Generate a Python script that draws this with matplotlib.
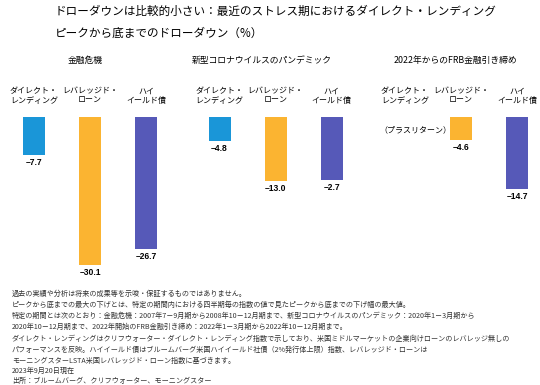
import matplotlib
matplotlib.use("Agg")
import matplotlib.pyplot as plt
import numpy as np

plt.rcParams['font.family'] = ['Noto Sans CJK JP', 'DejaVu Sans']

# データ
periods = ['金融危機', '新型コロナウイルスのパンデミック', '2022年からのFRB金融引き締め']
categories = ['ダイレクト・\nレンディング', 'レバレッジド・\nローン', 'ハイ\nイールド債']
# 棒の長さ
direct_lending = [-7.7, -4.8, None]
leveraged_loans = [-30.1, -13.0, -4.6]
high_yield = [-26.7, -12.7, -14.7]
# 表示ラベル
dl_labels = ['–7.7', '–4.8', None]
ll_labels = ['–30.1', '–13.0', '–4.6']
hy_labels = ['–26.7', '–2.7', '–14.7']
colors = ['#1a96d8', '#fbb431', '#5659b8']

title1 = 'ドローダウンは比較的小さい：最近のストレス期におけるダイレクト・レンディング'
title2 = 'ピークから底までのドローダウン（%）'
notes = [
    '過去の実績や分析は将来の成果等を示唆・保証するものではありません。',
    'ピークから底までの最大の下げとは、特定の期間内における四半期毎の指数の値で見たピークから底までの下げ幅の最大値。',
    '特定の期間とは次のとおり：金融危機：2007年7－9月期から2008年10－12月期まで、新型コロナウイルスのパンデミック：2020年1－3月期から',
    '2020年10－12月期まで、2022年開始のFRB金融引き締め：2022年1－3月期から2022年10－12月期まで。',
    'ダイレクト・レンディングはクリフウォーター・ダイレクト・レンディング指数で示しており、米国ミドルマーケットの企業向けローンのレバレッジ無しの',
    'パフォーマンスを反映。ハイイールド債はブルームバーグ米国ハイイールド社債（2%発行体上限）指数、レバレッジド・ローンは',
    'モーニングスターLSTA米国レバレッジド・ローン指数に基づきます。',
    '2023年9月20日現在',
    '出所：ブルームバーグ、クリフウォーター、モーニングスター',
]

W, H = 540, 385
fig = plt.figure(figsize=(W / 72, H / 72), dpi=72)

# 軸の位置（ピクセル）
lefts = [0.4, 186, 371.4]
ax_w = 179.2
top_px, bot_px = 117, 117 + 32 * 4.93

for i in range(3):
    ax = fig.add_axes([lefts[i] / W, 1 - bot_px / H, ax_w / W, (bot_px - top_px) / H])
    vals = [direct_lending[i], leveraged_loans[i], high_yield[i]]
    labs = [dl_labels[i], ll_labels[i], hy_labels[i]]
    for j, (v, lab) in enumerate(zip(vals, labs)):
        if v is None:
            ax.text(j + 0.18, -2.6, '（プラスリターン）', ha='center', va='center', fontsize=8)
            continue
        ax.bar(j, v, width=0.39, color=colors[j])
        ax.annotate(lab, (j, v), xytext=(0, -3), textcoords='offset points',
                    ha='center', va='top', fontsize=8.5, fontweight='bold',
                    family=['Liberation Sans', 'DejaVu Sans'])
    for j, c in enumerate(categories):
        ax.annotate(c, (j, 0), xytext=(0, 12), textcoords='offset points',
                    ha='center', va='bottom', fontsize=8, linespacing=1.1)
    ax.set_xlim(-0.6, 2.6)
    ax.set_ylim(-32, 0)
    ax.axis('off')

# パネルタイトル
for x, p in zip([85, 262, 455], periods):
    fig.text(x / W, 1 - 60 / H, p, ha='center', va='center', fontsize=8.8)

fig.text(55 / W, 1 - 11 / H, title1, ha='left', va='center', fontsize=11.6)
fig.text(55 / W, 1 - 33 / H, title2, ha='left', va='center', fontsize=11.6)

note_y = [294, 305, 316, 327, 338.5, 349.5, 360.5, 371, 380.5]
for y, t in zip(note_y, notes):
    fig.text(12 / W, 1 - y / H, t, ha='left', va='center', fontsize=7.1, color='#333333')

fig.savefig('out.png', dpi=72)
